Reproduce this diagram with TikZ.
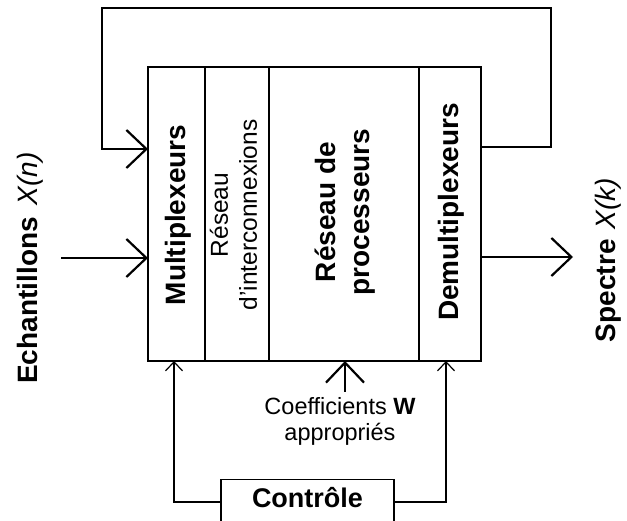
\documentclass[tikz,border=0pt]{standalone}
\usepackage{fontspec}
\setmainfont{Liberation Sans}
\usetikzlibrary{arrows.meta}
\begin{document}
\begin{tikzpicture}[x=1pt,y=-1pt,
  thinline/.style={line width=1.2pt},
  thickline/.style={line width=2.2pt},
  bigtip/.style={-{Straight Barb[length=20pt,width=38pt]}},
  smalltip/.style={-{Straight Barb[length=9pt,width=17pt]}},
  col/.style={draw, line width=1.2pt, inner sep=0pt, outer sep=0pt, minimum height=294pt},
  boldlbl/.style={font=\fontsize{28}{34}\selectfont\bfseries, inner sep=0pt},
  reglbl/.style={font=\fontsize{24.5}{29}\selectfont, inner sep=0pt}]
\useasboundingbox (0,0) rectangle (627,521);
\fill[white] (0,0) rectangle (627,521);
\clip (0,0) rectangle (627,521);

% main block columns
\node[col, minimum width=57pt]  (mux)   at (176.5,214) {};
\node[col, minimum width=64pt]  (inter) at (237,214) {};
\node[col, minimum width=150pt] (proc)  at (344,214) {};
\node[col, minimum width=62pt]  (demux) at (450,214) {};

% column texts
\node[boldlbl, rotate=90, anchor=base] (tmux) at (185,215) {Multiplexeurs};
\node[reglbl, rotate=90, align=center] (tinter) at (233.5,215) {Réseau\\d'interconnexions};
\node[boldlbl, rotate=90, align=center] (tproc) at (345,212) {Réseau de\\processeurs};
\node[boldlbl, rotate=90, anchor=base] (tdemux) at (458,212) {Demultiplexeurs};

% side labels
\node[boldlbl, rotate=90, anchor=base] (tin) at (37,268) {Echantillons\hspace{12pt}\mdseries\itshape X(n)};
\node[boldlbl, rotate=90, anchor=base] (tout) at (615,260) {Spectre\hspace{10pt}\mdseries\itshape X(k)};

% coefficients
\node[font=\fontsize{23.5}{26}\selectfont, align=center, inner xsep=0pt, inner ysep=5pt] (coef) at (340,421) {Coefficients \textbf{W}\\appropriés};
\coordinate (cw) at (345,0);
\draw[thickline, bigtip] (coef.north -| cw) -- (proc.south -| cw);

% control
\node[draw, thinline, minimum width=173pt, inner xsep=0pt, inner ysep=0pt,
      text height=28pt, text depth=30pt, anchor=north,
      font=\fontsize{27}{32}\selectfont\bfseries] (ctrl) at (307.5,479) {Contrôle};
\coordinate (cl) at (174,502);
\coordinate (cr) at (446,502);
\draw[thinline, smalltip] (ctrl.west |- cl) -| (mux.south -| cl);
\draw[thinline, smalltip] (ctrl.east |- cr) -| (demux.south -| cr);

% input / output
\coordinate (in) at (61,258);
\coordinate (out) at (573,257);
\draw[thickline, bigtip] (in) -- (mux.west |- in);
\draw[thickline, bigtip] (demux.east |- out) -- (out);

% feedback loop
\coordinate (fbo) at (0,147);
\coordinate (fbr) at (551,8);
\coordinate (fbl) at (102,149);
\draw[thickline, bigtip] (demux.east |- fbo) -| (fbr) -| (fbl) -- (mux.west |- fbl);
\end{tikzpicture}
\end{document}
